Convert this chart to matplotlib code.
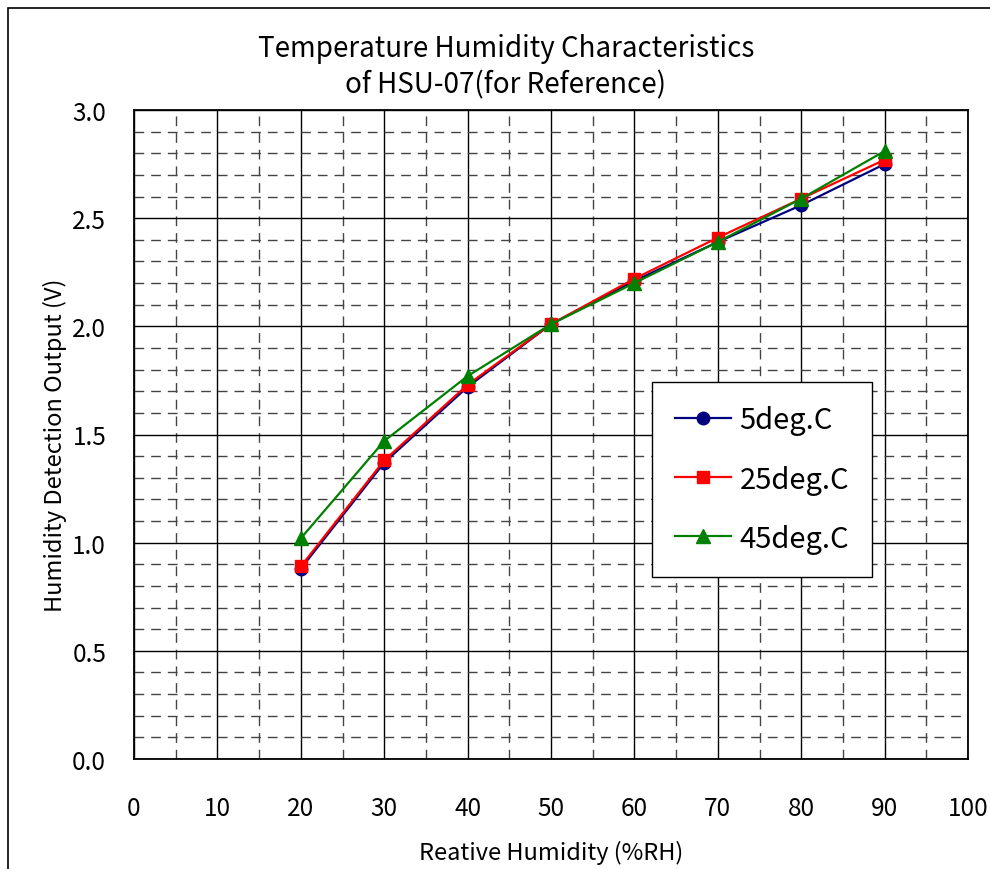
import matplotlib
matplotlib.use("Agg")
import matplotlib.pyplot as plt
from matplotlib import font_manager
from matplotlib.patches import Rectangle

# data
rh = [20, 30, 40, 50, 60, 70, 80, 90]
v_5 = [0.88, 1.37, 1.72, 2.01, 2.21, 2.39, 2.56, 2.75]
v_25 = [0.89, 1.38, 1.73, 2.01, 2.22, 2.41, 2.59, 2.77]
v_45 = [1.02, 1.47, 1.77, 2.01, 2.20, 2.39, 2.59, 2.81]
labels = ["5deg.C", "25deg.C", "45deg.C"]

names = {f.name for f in font_manager.fontManager.ttflist}
fam = "DejaVu Sans"
for cand in ["Liberation Sans Narrow", "Noto Sans CJK JP"]:
    if cand in names:
        fam = cand
        break
plt.rcParams['font.family'] = [fam, 'DejaVu Sans']

fig = plt.figure(figsize=(9.9, 8.7), dpi=100)
ax = fig.add_axes([134/990, 1-760/870, 834/990, 649/870])

ax.plot(rh, v_5, c='#000080', lw=1.6, marker='o', ms=9, label=labels[0], zorder=3)
ax.plot(rh, v_25, c='#ff0000', lw=1.6, marker='s', ms=9, label=labels[1], zorder=4)
ax.plot(rh, v_45, c='#008000', lw=1.6, marker='^', ms=10, label=labels[2], zorder=5)

ax.set_xlim(0, 100)
ax.set_ylim(0, 3.0)
ax.set_xticks(range(0, 101, 10))
ax.set_xticks(range(5, 100, 10), minor=True)
ax.set_yticks([0, 0.5, 1.0, 1.5, 2.0, 2.5, 3.0])
ax.set_yticks([i/10 for i in range(1, 30) if i % 5], minor=True)
ax.set_yticklabels(["0.0", "0.5", "1.0", "1.5", "2.0", "2.5", "3.0"])
ax.grid(which='major', color='black', lw=1.0, ls='-')
ax.grid(which='minor', color='#444444', lw=1.0, ls=(0, (7, 5)))
ax.set_axisbelow(True)
ax.tick_params(which='both', length=0, labelsize=17.5)
ax.tick_params(axis='x', pad=26)
ax.tick_params(axis='y', pad=20)
for s in ax.spines.values():
    s.set_linewidth(1.3)
    s.set_color('black')

ax.set_xlabel("Reative Humidity (%RH)", fontsize=17)
ax.set_ylabel("Humidity Detection Output (V)", fontsize=17)
ax.xaxis.set_label_coords(0.5, -0.124)
ax.yaxis.set_label_coords(-0.08, 0.485)

fig.text(0.511, 1-67/870, "Temperature Humidity Characteristics\nof HSU-07(for Reference)",
         ha='center', va='center', fontsize=20, linespacing=1.3)

leg = ax.legend(loc='lower left', bbox_to_anchor=(0.621, 0.2804), fontsize=21,
                fancybox=False, edgecolor='black', framealpha=1, handlelength=1.9,
                labelspacing=1.0, borderpad=0.8, handletextpad=0.3, borderaxespad=0)
leg.get_frame().set_linewidth(1.0)

# outer chart frame
fig.add_artist(Rectangle((8/990, -0.1), 1.2, 1-9/870+0.1, transform=fig.transFigure,
                         fill=False, ec='black', lw=1.2))

fig.savefig("out.png", dpi=100)
